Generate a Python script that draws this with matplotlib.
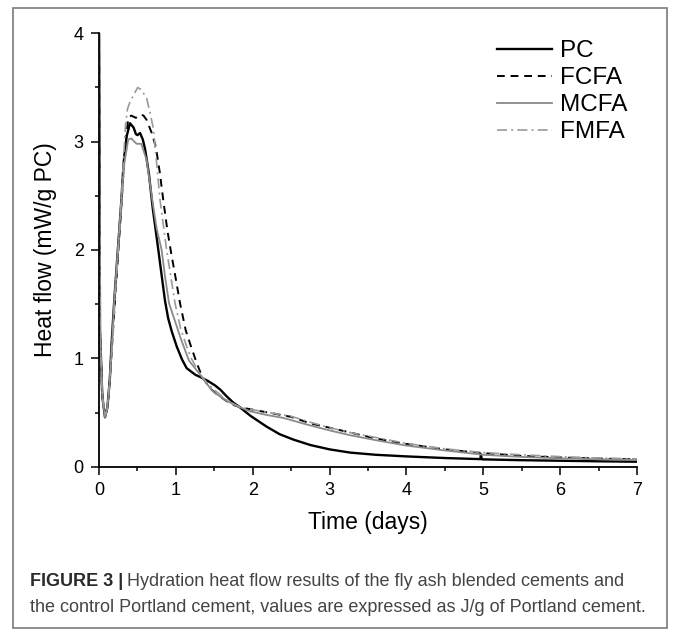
import matplotlib
matplotlib.use("Agg")
import matplotlib.pyplot as plt
from matplotlib.patches import Rectangle

plt.rcParams['font.family'] = ['Liberation Sans', 'DejaVu Sans']

# Heat-flow curves (mW/g PC) against time (days)
pc_t = [0.0, 0.013, 0.043, 0.078, 0.11, 0.14, 0.165, 0.20, 0.245, 0.29, 0.32, 0.36,
        0.403, 0.45, 0.48, 0.50, 0.534, 0.57, 0.60, 0.65, 0.70, 0.772, 0.82, 0.859,
        0.90, 0.946, 1.011, 1.08, 1.14, 1.25, 1.34, 1.42, 1.51, 1.58, 1.66, 1.75,
        1.83, 1.97, 2.18, 2.35, 2.53, 2.75, 3.0, 3.27, 3.6, 4.0, 4.5, 4.96, 4.97,
        4.98, 5.5, 6.0, 6.5, 7.0]
pc_y = [4.2, 1.26, 0.65, 0.456, 0.55, 0.80, 1.15, 1.55, 2.0, 2.45, 2.80, 3.05,
        3.17, 3.13, 3.07, 3.06, 3.08, 3.02, 2.93, 2.70, 2.38, 2.0, 1.74, 1.53,
        1.37, 1.25, 1.11, 0.99, 0.91, 0.85, 0.82, 0.79, 0.75, 0.71, 0.65, 0.59,
        0.55, 0.47, 0.37, 0.30, 0.25, 0.20, 0.16, 0.13, 0.11, 0.095, 0.08, 0.07, 0.115,
        0.068, 0.06, 0.055, 0.05, 0.046]

fcfa_t = [0.0, 0.013, 0.043, 0.08, 0.11, 0.14, 0.17, 0.205, 0.25, 0.295, 0.33, 0.38,
          0.42, 0.45, 0.48, 0.52, 0.547, 0.58, 0.62, 0.686, 0.74, 0.79, 0.84, 0.89,
          0.937, 1.0, 1.054, 1.128, 1.197, 1.26, 1.314, 1.36, 1.45, 1.55, 1.65, 1.75,
          1.83, 1.97, 2.2, 2.5, 2.75, 3.0, 3.3, 3.6, 4.0, 4.5, 5.0, 5.5, 6.0, 6.5, 7.0]
fcfa_y = [4.2, 1.26, 0.65, 0.46, 0.55, 0.80, 1.12, 1.50, 1.98, 2.45, 2.85, 3.22,
          3.24, 3.23, 3.22, 3.24, 3.25, 3.24, 3.20, 3.08, 2.95, 2.72, 2.44, 2.18,
          1.98, 1.73, 1.51, 1.26, 1.11, 0.98, 0.88, 0.81, 0.72, 0.66, 0.61, 0.57,
          0.55, 0.53, 0.50, 0.46, 0.40, 0.36, 0.31, 0.26, 0.21, 0.16, 0.125, 0.10,
          0.085, 0.075, 0.068]

mcfa_t = [0.0, 0.013, 0.043, 0.078, 0.11, 0.14, 0.17, 0.20, 0.245, 0.29, 0.33, 0.38,
          0.42, 0.46, 0.49, 0.55, 0.62, 0.694, 0.75, 0.815, 0.86, 0.911, 1.0, 1.07,
          1.17, 1.27, 1.34, 1.42, 1.49, 1.64, 1.75, 1.83, 1.97, 2.2, 2.4, 2.7, 3.0,
          3.27, 3.6, 4.0, 4.5, 5.0, 5.5, 6.0, 6.5, 7.0]
mcfa_y = [4.2, 1.26, 0.65, 0.456, 0.55, 0.80, 1.15, 1.55, 2.0, 2.45, 2.80, 3.02,
          3.03, 3.0, 2.98, 2.98, 2.83, 2.46, 2.2, 2.0, 1.75, 1.51, 1.32, 1.17,
          0.98, 0.89, 0.83, 0.75, 0.69, 0.616, 0.575, 0.55, 0.51, 0.475, 0.45, 0.39,
          0.335, 0.29, 0.245, 0.195, 0.15, 0.11, 0.09, 0.077, 0.068, 0.062]

fmfa_t = [0.0, 0.013, 0.043, 0.08, 0.11, 0.14, 0.17, 0.205, 0.25, 0.29, 0.32, 0.345,
          0.37, 0.40, 0.45, 0.503, 0.55, 0.62, 0.67, 0.707, 0.75, 0.794, 0.88, 0.989,
          1.06, 1.14, 1.2, 1.27, 1.34, 1.42, 1.5, 1.65, 1.75, 1.83, 1.97, 2.2, 2.5,
          2.75, 3.0, 3.3, 3.6, 4.0, 4.5, 5.0, 5.5, 6.0, 6.5, 7.0]
fmfa_y = [4.2, 1.26, 0.65, 0.46, 0.55, 0.80, 1.12, 1.50, 1.98, 2.45, 2.85, 3.15,
          3.30, 3.36, 3.43, 3.50, 3.48, 3.40, 3.25, 3.12, 2.80, 2.46, 2.0, 1.51,
          1.28, 1.11, 1.0, 0.91, 0.83, 0.76, 0.71, 0.62, 0.58, 0.55, 0.53, 0.50,
          0.465, 0.41, 0.36, 0.31, 0.27, 0.215, 0.165, 0.13, 0.11, 0.093, 0.08, 0.072]

series_names = ["PC", "FCFA", "MCFA", "FMFA"]
x_ticks = [0, 1, 2, 3, 4, 5, 6, 7]
y_ticks = [0, 1, 2, 3, 4]
x_label = "Time (days)"
y_label = "Heat flow (mW/g PC)"
caption_bold = "FIGURE 3 |"
caption_line1 = "Hydration heat flow results of the fly ash blended cements and"
caption_line2 = "the control Portland cement, values are expressed as J/g of Portland cement."

W, H, DPI = 673, 631, 100
fig = plt.figure(figsize=(W / DPI, H / DPI), dpi=DPI)
fig.patch.set_facecolor("white")

# outer frame of the figure panel
fig.add_artist(Rectangle((13 / W, 1 - 628 / H), (667 - 13) / W, (628 - 8) / H,
                         transform=fig.transFigure, fill=False,
                         edgecolor="#7a7a7a", linewidth=1.2))

ax = fig.add_axes([99 / W, 1 - 466.7 / H, (637 - 99) / W, (466.7 - 33.3) / H])

ax.plot(pc_t, pc_y, color="black", lw=1.7, label=series_names[0], solid_joinstyle="round")
ax.plot(fcfa_t, fcfa_y, color="black", lw=1.4, ls=(0, (4, 3)), label=series_names[1])
ax.plot(mcfa_t, mcfa_y, color="#8a8a8a", lw=1.3, label=series_names[2])
ax.plot(fmfa_t, fmfa_y, color="#9a9a9a", lw=1.2, ls=(0, (6, 2.5, 1.2, 2.5)), label=series_names[3])

ax.set_xlim(0, 7)
ax.set_ylim(0, 4)
ax.set_xticks(x_ticks)
ax.set_yticks(y_ticks)
ax.set_xticks([v + 0.5 for v in x_ticks[:-1]], minor=True)
ax.set_yticks([v + 0.5 for v in y_ticks[:-1]], minor=True)
for s in ("top", "right"):
    ax.spines[s].set_visible(False)
for s in ("left", "bottom"):
    ax.spines[s].set_linewidth(1.3)
ax.tick_params(which="major", direction="out", length=6, width=1.1, labelsize=13, pad=5)
ax.tick_params(which="minor", direction="out", length=3, width=1.1)

ax.set_xlabel(x_label, fontsize=16.5, labelpad=9)
ax.set_ylabel(y_label, fontsize=16.5, labelpad=12)

ax.legend(loc="upper left", bbox_to_anchor=(497 / W, 1 - 40 / H),
          bbox_transform=fig.transFigure, frameon=False, fontsize=17.5,
          handlelength=2.26, handletextpad=0.33, labelspacing=0.21, borderpad=0,
          borderaxespad=0)

# caption below the plot
fig.canvas.draw()
renderer = fig.canvas.get_renderer()
cap_fs = 13
cap_x = 30 / W
t_bold = fig.text(cap_x, 1 - 582 / H, caption_bold, fontsize=cap_fs, fontweight="bold",
                  color="#2a2a2a", va="center", ha="left")
bb = t_bold.get_window_extent(renderer)
gap = 4
fig.text((bb.x1 + gap) / W, 1 - 582 / H, caption_line1, fontsize=cap_fs,
         color="#444444", va="center", ha="left")
fig.text(cap_x, 1 - 607 / H, caption_line2, fontsize=cap_fs,
         color="#444444", va="center", ha="left")

fig.savefig("out.png", dpi=DPI)
